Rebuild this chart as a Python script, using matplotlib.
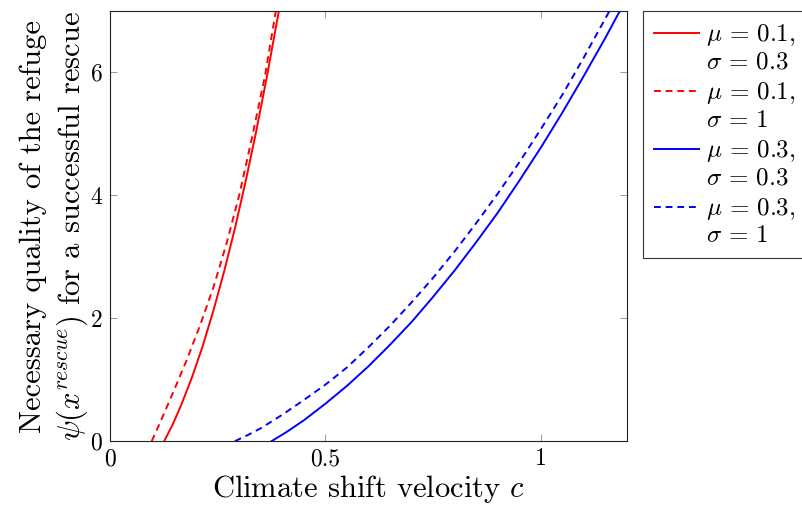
import matplotlib
matplotlib.use("Agg")
import matplotlib.pyplot as plt
from matplotlib.legend_handler import HandlerLine2D

plt.rcParams["font.family"] = "serif"
plt.rcParams["font.serif"] = ["cmr10"]
plt.rcParams["mathtext.fontset"] = "cm"
plt.rcParams["axes.formatter.use_mathtext"] = True

# values
c_r03 = [0.126, 0.145, 0.165, 0.19, 0.215, 0.24, 0.265, 0.29, 0.315, 0.34, 0.365, 0.392]
psi_r03 = [0.0, 0.26, 0.58, 1.03, 1.54, 2.12, 2.76, 3.46, 4.23, 5.06, 5.96, 7.0]

c_r1 = [0.097, 0.11, 0.13, 0.155, 0.18, 0.21, 0.24, 0.27, 0.30, 0.33, 0.36, 0.385]
psi_r1 = [0.0, 0.2, 0.52, 0.93, 1.35, 1.9, 2.5, 3.2, 4.0, 4.95, 5.95, 7.0]

c_b03 = [0.375, 0.41, 0.45, 0.5, 0.55, 0.6, 0.65, 0.7, 0.75, 0.8, 0.85, 0.9,
         0.95, 1.0, 1.05, 1.1, 1.15, 1.183]
psi_b03 = [0.0, 0.15, 0.34, 0.61, 0.9, 1.22, 1.57, 1.94, 2.35, 2.78, 3.24, 3.72,
           4.24, 4.78, 5.35, 5.95, 6.57, 7.0]

c_b1 = [0.29, 0.32, 0.35, 0.4, 0.45, 0.5, 0.55, 0.6, 0.65, 0.7, 0.75, 0.8,
        0.85, 0.9, 0.95, 1.0, 1.05, 1.1, 1.159]
psi_b1 = [0.0, 0.1, 0.21, 0.43, 0.67, 0.92, 1.2, 1.53, 1.88, 2.26, 2.66, 3.09,
          3.55, 4.03, 4.54, 5.08, 5.64, 6.25, 7.0]

labels = ["$\\mu\\,=\\,0.1,$\n$\\sigma\\,=\\,0.3$", "$\\mu\\,=\\,0.1,$\n$\\sigma\\,=\\,1$",
          "$\\mu\\,=\\,0.3,$\n$\\sigma\\,=\\,0.3$", "$\\mu\\,=\\,0.3,$\n$\\sigma\\,=\\,1$"]


class TopLine(HandlerLine2D):
    # put the legend line next to the first text line, as pgfplots does
    def create_artists(self, *args, **kwargs):
        arts = super().create_artists(*args, **kwargs)
        for a in arts:
            a.set_ydata([y + 10.5 for y in a.get_ydata()])
        return arts


fig = plt.figure(figsize=(8.02, 5.13), dpi=100)
ax = fig.add_axes([0.137, 0.140, 0.645, 0.8386])

dash = (0, (3.5, 2.5))
ax.plot(c_r03, psi_r03, color="#ff0000", lw=1.4, label=labels[0])
ax.plot(c_r1, psi_r1, color="#ff0000", lw=1.4, ls=dash, label=labels[1])
ax.plot(c_b03, psi_b03, color="#0000ff", lw=1.4, label=labels[2])
ax.plot(c_b1, psi_b1, color="#0000ff", lw=1.4, ls=dash, label=labels[3])

ax.set_xlim(0, 1.2)
ax.set_ylim(0, 7)
ax.set_xticks([0, 0.5, 1])
ax.set_xticklabels(["0", "0.5", "1"])
ax.set_yticks([0, 2, 4, 6])
ax.tick_params(direction="in", top=True, right=True, length=5, width=0.6,
               color="#888888", labelsize=17, pad=5)
for s in ax.spines.values():
    s.set_linewidth(0.8)
    s.set_color("#222222")

ax.set_xlabel("Climate shift velocity $c$", fontsize=22, labelpad=2)
ax.set_ylabel("Necessary quality of the refuge\n"
              "$\\psi(x^{rescue})$ for a successful rescue",
              fontsize=22, labelpad=0, linespacing=1.3)

leg = ax.legend(loc="upper left", bbox_to_anchor=(1.031, 1.0), borderaxespad=0,
                fontsize=18, handlelength=1.8, fancybox=False, framealpha=1,
                edgecolor="#333333", labelspacing=0.25, handletextpad=0.25,
                borderpad=0.45, handler_map={matplotlib.lines.Line2D: TopLine()})
leg.get_frame().set_linewidth(0.8)

fig.savefig("out.png", dpi=100)
